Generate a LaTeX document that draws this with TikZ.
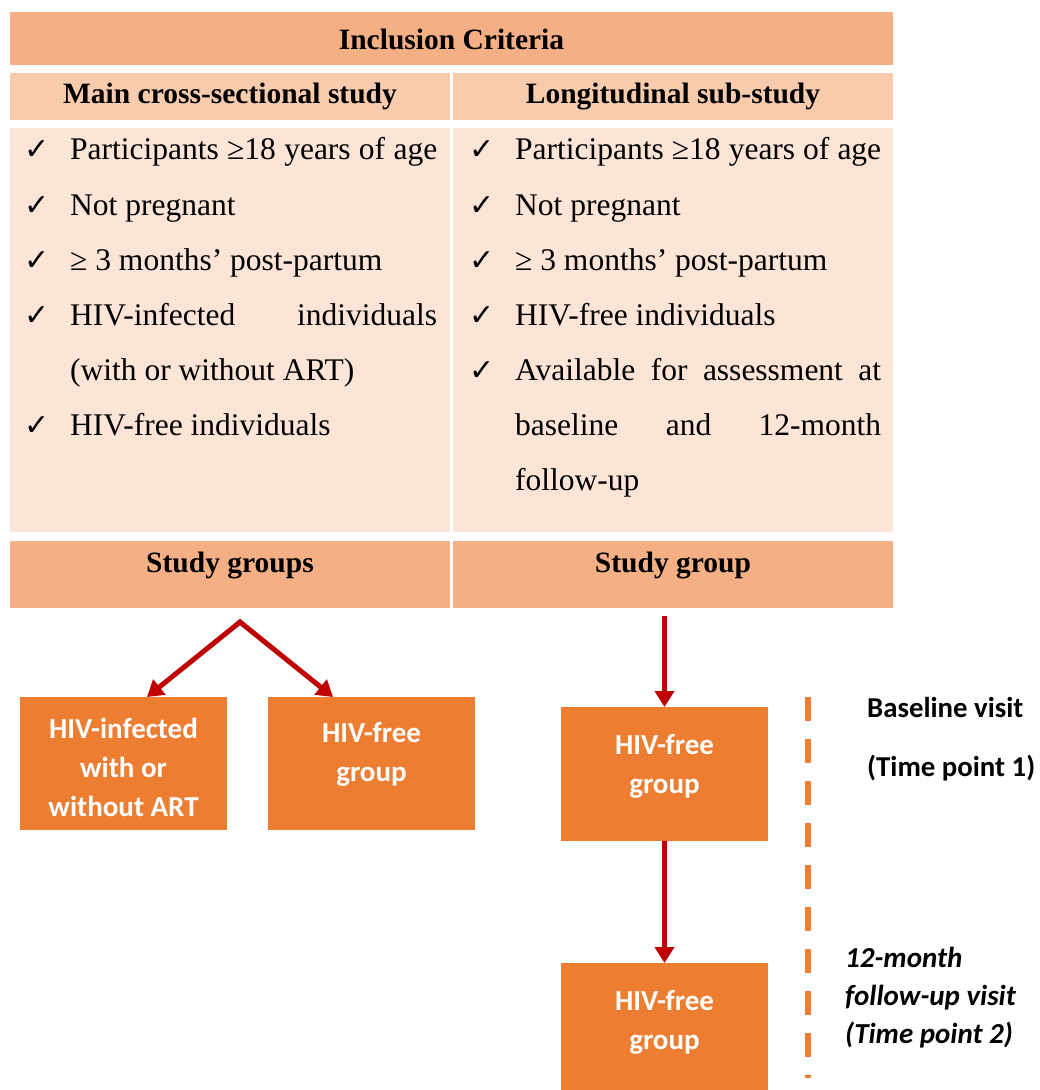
\documentclass[tikz,border=0pt]{standalone}
\usepackage{fontspec}
\setmainfont{Liberation Serif}
\newfontfamily\carl{Carlito}
\newfontfamily\djv{DejaVu Sans}
\usetikzlibrary{arrows.meta,calc}
\definecolor{hdrc}{HTML}{F4B084}
\definecolor{subc}{HTML}{F8CBAD}
\definecolor{bodyc}{HTML}{FCE4D6}
\definecolor{boxc}{HTML}{ED7D31}
\definecolor{arrc}{HTML}{C00000}
\newcommand\Jl[1]{\makebox[367pt][s]{#1}}
\newcommand\Jr[1]{\makebox[366pt][s]{#1}}
\begin{document}
\begin{tikzpicture}[x=1pt,y=-1pt,
 cell/.style={rectangle, inner sep=0pt, outer sep=0pt, draw=none},
 headtxt/.style={font=\fontsize{29.5}{34}\selectfont\bfseries, anchor=base, inner sep=0pt},
 bodytxt/.style={font=\fontsize{31.5}{36}\selectfont, anchor=base west, inner sep=0pt},
 chk/.style={font=\djv\bfseries\fontsize{30}{32}\selectfont, anchor=base west, inner sep=0pt},
 obox/.style={rectangle, fill=boxc, inner sep=0pt, outer sep=0pt, minimum width=207pt},
 otext/.style={font=\carl\bfseries\fontsize{29}{39}\selectfont, text=white, align=center, inner sep=0pt},
 side/.style={font=\carl\bfseries\fontsize{28.8}{32}\selectfont, anchor=base west, inner sep=0pt},
 sideit/.style={font=\carl\bfseries\itshape\fontsize{29}{32}\selectfont, anchor=base west, inner sep=0pt},
 redline/.style={draw=arrc, line width=5pt},
 redarrow/.style={redline, -{Triangle[width=19pt,length=16pt]}}
]
\path[use as bounding box] (0,0) rectangle (1040,1090);

% table cells
\node[cell, fill=hdrc, minimum width=883pt, minimum height=53pt] (inc) at (451.5,38.5) {};
\node[cell, fill=subc, minimum width=440pt, minimum height=47pt] (mainh) at (230,96.5) {};
\node[cell, fill=subc, minimum width=440pt, minimum height=47pt] (longh) at (673,96.5) {};
\node[cell, fill=bodyc, minimum width=440pt, minimum height=404pt] (mainb) at (230,330) {};
\node[cell, fill=bodyc, minimum width=440pt, minimum height=404pt] (longb) at (673,330) {};
\node[cell, fill=hdrc, minimum width=440pt, minimum height=67pt] (sg1) at (230,574.5) {};
\node[cell, fill=hdrc, minimum width=440pt, minimum height=67pt] (sg2) at (673,574.5) {};

% headings
\node[headtxt] (tinc) at (451.5,49) {Inclusion Criteria};
\node[headtxt] (tmain) at (230,103) {Main cross-sectional study};
\node[headtxt] (tlong) at (673,103) {Longitudinal sub-study};
\node[headtxt] (tsg1) at (230,572) {Study groups};
\node[headtxt] (tsg2) at (673,572) {Study group};

% left column
\node[chk] (cl1) at (24,159) {✓};
\node[bodytxt] (ll1) at (70,159) {\Jl{Participants ≥18 years of age}};
\node[chk] (cl2) at (24,215) {✓};
\node[bodytxt] (ll2) at (70,215) {Not pregnant};
\node[chk] (cl3) at (24,270) {✓};
\node[bodytxt] (ll3) at (70,270) {≥ 3 months’ post-partum};
\node[chk] (cl4) at (24,325) {✓};
\node[bodytxt] (ll4) at (70,325) {\Jl{HIV-infected individuals}};
\node[bodytxt] (ll4b) at (70,380) {(with or without ART)};
\node[chk] (cl5) at (24,435) {✓};
\node[bodytxt] (ll5) at (70,435) {HIV-free individuals};

% right column
\node[chk] (cr1) at (469,159) {✓};
\node[bodytxt] (lr1) at (515,159) {\Jr{Participants ≥18 years of age}};
\node[chk] (cr2) at (469,215) {✓};
\node[bodytxt] (lr2) at (515,215) {Not pregnant};
\node[chk] (cr3) at (469,270) {✓};
\node[bodytxt] (lr3) at (515,270) {≥ 3 months’ post-partum};
\node[chk] (cr4) at (469,325) {✓};
\node[bodytxt] (lr4) at (515,325) {HIV-free individuals};
\node[chk] (cr5) at (469,380) {✓};
\node[bodytxt] (lr5) at (515,380) {\Jr{Available for assessment at}};
\node[bodytxt] (lr5b) at (515,435) {\Jr{baseline and 12-month}};
\node[bodytxt] (lr5c) at (515,490) {follow-up};

% orange boxes
\node[obox, minimum height=133pt] (lb1) at (123.5,763.5) {};
\node[obox, minimum height=133pt] (lb2) at (371.5,763.5) {};
\node[obox, minimum height=134pt] (rb1) at (664.5,774) {};
\node[obox, minimum height=127pt] (rb2) at (664.5,1026.5) {};
\node[otext] (lt1) at (123.5,767) {HIV-infected\\with or\\without ART};
\node[otext] (lt2) at (371.5,754) {HIV-free\\group};
\node[otext] (rt1) at (664.5,766) {HIV-free\\group};
\node[otext] (rt2) at (664.5,1022) {HIV-free\\group};

% arrows
\coordinate (apex) at (240,622);
\draw[redline, {Triangle[width=19pt,length=16pt]}-{Triangle[width=19pt,length=16pt]}]
  ($(lb1.north west)+(127,0)$) -- (apex) -- ($(lb2.north west)+(65,0)$);
\draw[redarrow] ($(rb1.north |- sg2.south)+(0,8)$) -- (rb1.north);
\draw[redarrow] (rb1.south) -- (rb2.north);

% dashed time line
\coordinate (dtop) at (808,697);
\coordinate (dbot) at (808,1078);
\draw[boxc, line width=5.5pt, dash pattern=on 24pt off 18pt] (dtop) -- (dbot);

% side labels
\node[side] (bv) at (867,717) {Baseline visit};
\node[side] (tp1) at (867,776) {(Time point 1)};
\node[sideit] (fu1) at (845,967) {12-month};
\node[sideit] (fu2) at (845,1005) {follow-up visit};
\node[sideit] (fu3) at (845,1043) {(Time point 2)};
\end{tikzpicture}
\end{document}
